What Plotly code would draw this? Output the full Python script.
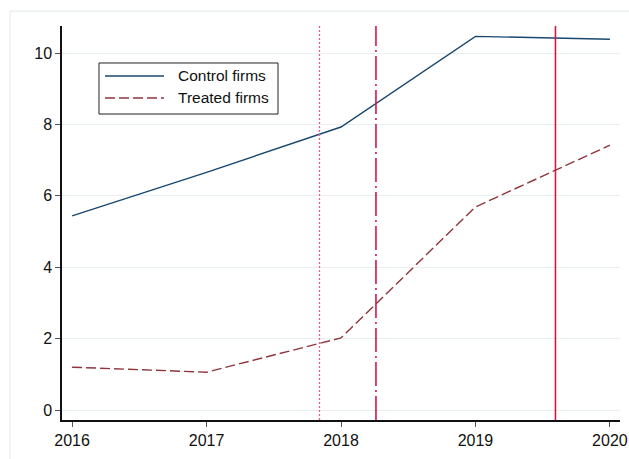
import plotly.graph_objects as go

years = [2016, 2017, 2018, 2019, 2020]
control = [5.44, 6.66, 7.93, 10.47, 10.39]
treated = [1.20, 1.06, 2.02, 5.69, 7.42]
series_names = ["Control firms", "Treated firms"]
vline_dotted = 2017.84
vline_dashdot = 2018.26
vline_solid = 2019.595
ytick_vals = [0, 2, 4, 6, 8, 10]
xtick_vals = [2016, 2017, 2018, 2019, 2020]

NAVY = "#1a476f"
MAROON = "#90353b"
RED = "#cf1a48"
PINK = "#ec5c88"
GRID = "#e8f0f2"
FONT = "Liberation Sans, Arial, sans-serif"

fig = go.Figure()
fig.add_trace(go.Scatter(x=years, y=control, mode="lines", name=series_names[0],
                         line=dict(color=NAVY, width=1.4), showlegend=False))
fig.add_trace(go.Scatter(x=years, y=treated, mode="lines", name=series_names[1],
                         line=dict(color=MAROON, width=1.4, dash="10px,4px"), showlegend=False))

shapes = []
# vertical reference lines
shapes.append(dict(type="line", xref="x", yref="paper", x0=vline_dotted, x1=vline_dotted, y0=0, y1=1,
                   line=dict(color=PINK, width=1.3, dash="2px,2px")))
shapes.append(dict(type="line", xref="x", yref="paper", x0=vline_dashdot, x1=vline_dashdot, y0=0, y1=1,
                   line=dict(color=RED, width=1.6, dash="24px,4px,2px,4px")))
shapes.append(dict(type="line", xref="x", yref="paper", x0=vline_solid, x1=vline_solid, y0=0, y1=1,
                   line=dict(color=RED, width=1.6)))
# outer light frame (left and top edges)
shapes.append(dict(type="line", xref="paper", yref="paper", x0=-0.0932, x1=-0.0932, y0=1.038, y1=-0.2,
                   line=dict(color="#e6eef0", width=1.2)))
shapes.append(dict(type="line", xref="paper", yref="paper", x0=-0.0932, x1=1.1, y0=1.038, y1=1.038,
                   line=dict(color="#e6eef0", width=1.2)))
# legend box
lx0, lx1, ly0, ly1 = 0.0663, 0.3871, 0.7766, 0.9061
shapes.append(dict(type="rect", xref="paper", yref="paper", x0=lx0, x1=lx1, y0=ly0, y1=ly1,
                   line=dict(color="#222222", width=1), fillcolor="white"))
row_y = [0.8731, 0.8173]
styles = [dict(color=NAVY, width=1.4), dict(color=MAROON, width=1.4, dash="10px,4px")]
annotations = []
for name, yy, st in zip(series_names, row_y, styles):
    shapes.append(dict(type="line", xref="paper", yref="paper", x0=0.0771, x1=0.1828, y0=yy, y1=yy, line=st))
    annotations.append(dict(xref="paper", yref="paper", x=0.2043, y=yy, text=name, showarrow=False,
                            xanchor="left", yanchor="middle", font=dict(family=FONT, size=15.5, color="#111111")))

fig.update_layout(
    width=629, height=459,
    margin=dict(l=62, r=9, t=26, b=39, autoexpand=False),
    paper_bgcolor="white", plot_bgcolor="white",
    font=dict(family=FONT, size=16, color="#111111"),
    shapes=shapes, annotations=annotations,
    showlegend=False,
)
fig.update_xaxes(range=[2015.925, 2020.075], tickvals=xtick_vals, ticktext=[str(v) for v in xtick_vals],
                 automargin=False, tickfont=dict(size=16),
                 showgrid=False, zeroline=False, showline=True, linecolor="#111111", linewidth=1.5,
                 ticks="outside", ticklen=5, tickwidth=1.2, tickcolor="#555555")
fig.update_yaxes(range=[-0.28, 10.76], tickvals=ytick_vals, ticktext=[str(v) for v in ytick_vals],
                 automargin=False, tickfont=dict(size=16),
                 showgrid=True, gridcolor=GRID, gridwidth=1.2, zeroline=False, showline=True,
                 linecolor="#111111", linewidth=1.5,
                 ticks="outside", ticklen=5, tickwidth=1.2, tickcolor="#555555")

fig.write_html("out.html")
